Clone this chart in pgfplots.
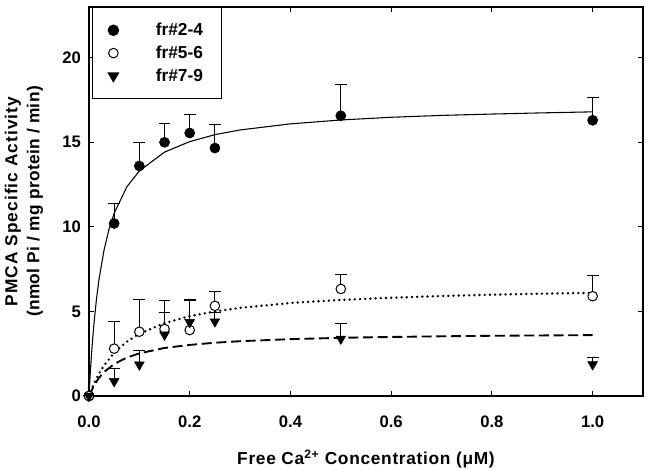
\documentclass[border=0pt]{standalone}
\usepackage{fontspec}
\setmainfont{Liberation Sans}
\newfontfamily\wideA[LetterSpace=6]{Liberation Sans}
\newfontfamily\wideB[LetterSpace=2]{Liberation Sans}
\newfontfamily\wideC[LetterSpace=4]{Liberation Sans}
\usepackage{pgfplots}
\pgfplotsset{compat=1.18}

\newcommand{\lblfont}{\fontsize{13}{16.5}\selectfont\bfseries}
\newcommand{\tickfont}{\fontsize{12.5}{15}\selectfont\bfseries}
\newcommand{\legfont}{\fontsize{13}{15}\selectfont\bfseries}

\pgfplotstableread{
x     y      e
0     0      0
0.05  10.20  1.20
0.10  13.60  1.40
0.15  15.00  1.10
0.20  15.55  1.10
0.25  14.66  1.40
0.50  16.57  1.85
1.00  16.30  1.35
}\frA

\pgfplotstableread{
x     y      e
0     0      0
0.05  2.80   1.60
0.10  3.80   1.90
0.15  3.96   1.66
0.20  3.90   1.80
0.25  5.33   0.86
0.50  6.33   0.85
1.00  5.90   1.22
}\frB

\pgfplotstableread{
x     y      e
0     0      0
0.05  0.87   0.77
0.10  1.85   0.85
0.15  3.62   1.30
0.20  4.36   1.30
0.25  4.40   0.55
0.50  3.38   0.92
1.00  1.86   0.41
}\frC

\begin{document}
\begin{tikzpicture}
  \begin{axis}[
    name=ax,
    width=415.5pt, height=291.75pt,
    scale only axis,
    clip=false,
    xmin=0, xmax=1.1,
    ymin=0, ymax=23,
    xtick={0,0.2,0.4,0.6,0.8,1.0},
    ytick={0,5,10,15,20},
    tick align=inside,
    major tick length=3.5pt,
    axis line style={line width=1pt},
    every tick/.style={black, line width=0.8pt},
    /pgf/number format/assume math mode=true,
    xticklabel style={font=\tickfont, yshift=-11pt,
      /pgf/number format/.cd, fixed, fixed zerofill, precision=1},
    yticklabel style={font=\tickfont, xshift=-2.5pt},
    xlabel={\wideC Free Ca\textsuperscript{2+} Concentration (μM)},
    ylabel={{\wideA\bfseries PMCA Specific Activity}\\{\wideB\bfseries (nmol Pi / mg protein / min)}},
    xlabel style={font=\lblfont, at={(axis description cs:0.5,-0.162)}, anchor=center},
    ylabel style={font=\lblfont, align=center,
      at={(axis description cs:-0.1173,0.5)}, anchor=center},
    legend cell align=left,
    legend image code/.code={\draw[#1] plot coordinates {(0pt,0pt)};},
    legend style={at={(rel axis cs:0,1)}, anchor=north west, xshift=2pt,
      draw=black, line width=1pt, font=\legfont,
      inner xsep=12pt, inner ysep=9.5pt, row sep=2.2pt,
      /tikz/every odd column/.style={column sep=26pt}},
  ]
  % fitted curves
  \addplot[forget plot, black, line width=0.8pt] coordinates {
    (0,0) (0.0025,1.33) (0.005,2.47) (0.0075,3.46) (0.01,4.33) (0.015,5.77)
    (0.02,6.92) (0.03,8.65) (0.04,9.89) (0.05,10.81) (0.075,12.36)
    (0.1,13.31) (0.15,14.42) (0.2,15.04) (0.25,15.45) (0.3,15.73)
    (0.4,16.09) (0.5,16.32) (0.6,16.48) (0.7,16.59) (0.8,16.67)
    (0.9,16.74) (1.0,16.80)
  };
  \addplot[forget plot, black, line width=2pt, line cap=round,
    dash pattern=on 0pt off 3.9pt] coordinates {
    (0,0) (0.01,0.74) (0.02,1.33) (0.03,1.81) (0.05,2.55) (0.075,3.21)
    (0.1,3.68) (0.15,4.31) (0.2,4.72) (0.25,5.00) (0.3,5.21)
    (0.4,5.50) (0.5,5.68) (0.6,5.81) (0.7,5.91) (0.8,5.99)
    (0.9,6.05) (1.0,6.10)
  };
  \addplot[forget plot, black, line width=1.4pt,
    dash pattern=on 7.5pt off 3.5pt] coordinates {
    (0,0) (0.01,0.63) (0.02,1.08) (0.03,1.42) (0.05,1.89) (0.075,2.27)
    (0.1,2.52) (0.15,2.84) (0.2,3.02) (0.25,3.15) (0.3,3.24)
    (0.4,3.36) (0.5,3.44) (0.6,3.49) (0.7,3.53) (0.8,3.56)
    (0.9,3.58) (1.0,3.60)
  };
  % data with upper error bars
  \addplot[black, only marks, mark=*, mark size=3.8pt,
    error bars/.cd, y dir=plus, y explicit,
    error bar style={line width=0.75pt, black},
    error mark options={rotate=90, mark size=4.4pt, line width=0.75pt, black}]
    table[x=x, y=y, y error=e] {\frA};
  \addlegendentry{fr\#2-4}
  \addplot[black, only marks, mark=*, mark size=3.6pt,
    mark options={fill=white, line width=0.75pt},
    error bars/.cd, y dir=plus, y explicit,
    error bar style={line width=0.75pt, black},
    error mark options={rotate=90, mark size=4.4pt, line width=0.75pt, black}]
    table[x=x, y=y, y error=e] {\frB};
  \addlegendentry{fr\#5-6}
  \addplot[black, only marks, mark=triangle*, mark size=4.2pt,
    mark options={rotate=180},
    error bars/.cd, y dir=plus, y explicit,
    error bar style={line width=0.75pt, black},
    error mark options={rotate=90, mark size=4.4pt, line width=0.75pt, black}]
    table[x=x, y=y, y error=e] {\frC};
  \addlegendentry{fr\#7-9}
  \end{axis}
  \pgfresetboundingbox
  \path[use as bounding box] (ax.south west) ++(-66.75pt,-55.5pt) rectangle ++(488.25pt,352.5pt);
\end{tikzpicture}
\end{document}
